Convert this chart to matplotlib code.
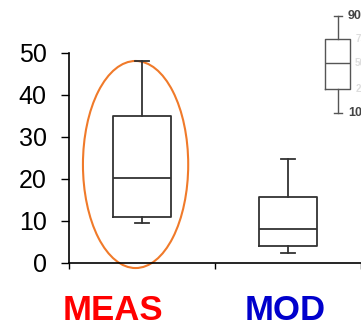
import numpy as np
import matplotlib
matplotlib.use("Agg")
import matplotlib.pyplot as plt
from matplotlib.patches import Ellipse

plt.rcParams["font.family"] = ["Liberation Sans", "DejaVu Sans"]

# box statistics
groups = ["MEAS", "MOD"]
group_colors = ["#ff0000", "#0000cc"]
whis_lo = [9.5, 2.5]
q1 = [11.0, 4.0]
median = [20.2, 8.2]
q3 = [35.0, 15.8]
whis_hi = [48.0, 24.7]

# percentile key glyph (upper right)
key_labels = ["90", "75", "50", "25", "10"]
key_values = [58.8, 53.3, 47.6, 41.4, 35.7]

fig = plt.figure(figsize=(3.61, 3.28), dpi=100)
ax = fig.add_axes([69 / 361, 65 / 328, 292 / 361, 210 / 328])

stats = []
for i, g in enumerate(groups):
    stats.append(dict(label=g, whislo=whis_lo[i], q1=q1[i], med=median[i],
                      q3=q3[i], whishi=whis_hi[i], fliers=[]))

line = dict(color="#333333", linewidth=1.3)
ax.bxp(stats, positions=[1, 2], widths=0.4, capwidths=0.09, showfliers=False,
       boxprops=line, whiskerprops=line, capprops=line, medianprops=line)

# key box
kstats = [dict(whislo=key_values[4], q1=key_values[3], med=key_values[2],
               q3=key_values[1], whishi=key_values[0], fliers=[])]
kline = dict(color="#555555", linewidth=1.0, clip_on=False)
ax.bxp(kstats, positions=[2.34], widths=0.17, capwidths=0.055,
       showfliers=False, manage_ticks=False,
       boxprops=kline, whiskerprops=kline, capprops=kline, medianprops=kline)
for i, (lab, v) in enumerate(zip(key_labels, key_values)):
    strong = i in (0, 4)
    ax.text(2.41 if strong else 2.46, v, lab, fontsize=9 if strong else 7,
            fontweight="bold", color="#444444" if strong else "#dddddd",
            va="center", ha="left", clip_on=False)

# highlight around the measured box
ax.add_patch(Ellipse((0.956, 23.45), 0.721, 49.3, fill=False,
                     edgecolor="#f07a2a", linewidth=1.5, clip_on=False))

ax.set_xlim(0.5, 2.486)
ax.set_ylim(0, 50)
ax.set_yticks([0, 10, 20, 30, 40, 50])
ax.set_xticks([0.5, 1.5, 2.5])
ax.set_xticklabels([])
ax.tick_params(axis="y", direction="out", length=6, width=1.0, labelsize=18, pad=10)
ax.tick_params(axis="x", direction="out", length=4, width=1.0)
for s in ["top", "right"]:
    ax.spines[s].set_visible(False)
for s in ["left", "bottom"]:
    ax.spines[s].set_linewidth(1.2)
ax.spines["left"].set_bounds(0, 50)

label_x = [0.8, 1.98]
for g, c, x in zip(groups, group_colors, label_x):
    ax.text(x, -11.4, g, color=c, fontsize=25, fontweight="bold",
            ha="center", va="center", clip_on=False)

fig.savefig("out.png", dpi=100)
